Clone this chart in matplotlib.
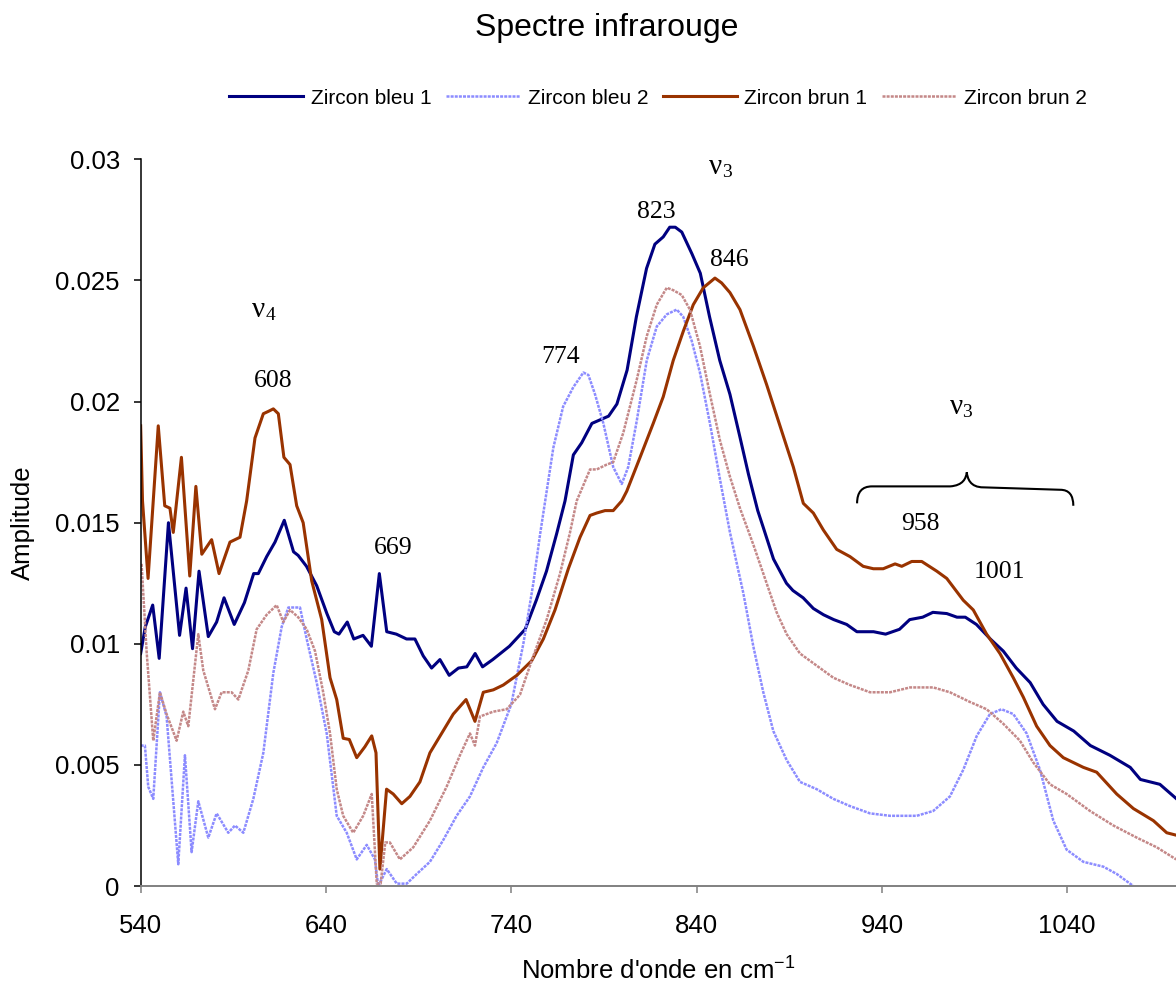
import matplotlib
matplotlib.use("Agg")
import matplotlib.pyplot as plt
from matplotlib.path import Path
from matplotlib.patches import PathPatch

plt.rcParams["font.family"] = ["Liberation Sans", "DejaVu Sans"]
plt.rcParams["mathtext.fontset"] = "custom"
plt.rcParams["mathtext.rm"] = "Liberation Sans"
plt.rcParams["mathtext.it"] = "Liberation Sans"
SERIF = ["Liberation Serif", "DejaVu Serif"]

# ---- data (wavenumber cm-1, amplitude) ----
bleu1_x = [540, 542.5, 546.5, 550, 555, 561, 564.5, 568, 571.5, 576.5, 581, 585, 590.5, 596,
           601, 603.5, 608, 612.5, 617.5, 622.5, 625, 629.5, 635, 640.5, 644.5, 647, 651.5, 655,
           660, 664.5, 668.8, 672.8, 678, 683.5, 688, 692.5, 697, 701.5, 706.5, 711.5, 716,
           720.5, 724.5, 730, 739, 747.5, 753.5, 759, 764.5, 769, 773.5, 778, 783.5, 789.5,
           792.5, 797, 802.5, 807.5, 813, 817.5, 822, 825.5, 828.5, 832, 837.5, 842, 847,
           852.5, 858, 863.5, 868, 873, 876, 881.5, 888.5, 892, 897.5, 903, 908.5, 914, 921,
           926.5, 935.5, 942, 949.5, 955, 962, 967.5, 975, 980.5, 985, 991, 998.5, 1005.5,
           1012.5, 1020, 1027, 1034.5, 1043.5, 1052.5, 1063, 1074, 1079.5, 1090, 1099]
bleu1_y = [0.0096, 0.0107, 0.0116, 0.0094, 0.0150, 0.01035, 0.0123, 0.0098, 0.0130, 0.0103,
           0.0109, 0.0119, 0.0108, 0.0117, 0.0129, 0.0129, 0.0136, 0.0142, 0.0151, 0.0138,
           0.01365, 0.0132, 0.0124, 0.01125, 0.0105, 0.0104, 0.0109, 0.0102, 0.01035, 0.0099,
           0.0129, 0.0105, 0.0104, 0.0102, 0.0102, 0.0095, 0.0090, 0.00935, 0.0087, 0.0090,
           0.00905, 0.0096, 0.00905, 0.00935, 0.0099, 0.0106, 0.0118, 0.0130, 0.01455, 0.0159,
           0.0178, 0.0183, 0.0191, 0.0193, 0.0194, 0.0199, 0.0213, 0.0235, 0.0255, 0.0265,
           0.0268, 0.0272, 0.0272, 0.0270, 0.0261, 0.0253, 0.0235, 0.0217, 0.0203, 0.0185,
           0.0170, 0.0155, 0.0148, 0.0135, 0.0125, 0.0122, 0.0119, 0.01146, 0.0112, 0.0110,
           0.0108, 0.0105, 0.0105, 0.0104, 0.0106, 0.0110, 0.0111, 0.0113, 0.01125, 0.0111,
           0.0111, 0.0108, 0.0102, 0.0097, 0.0090, 0.0084, 0.0075, 0.0068, 0.0064, 0.0058,
           0.0054, 0.0049, 0.0044, 0.0042, 0.0036]

bleu2_x = [540, 542.3, 544.1, 546.8, 550.4, 554, 560.3, 563.9, 567.5, 571.1, 576.5, 581, 587.3,
           590.9, 595.4, 600.8, 606.2, 611.6, 616.1, 619.7, 626, 629.6, 635, 640.4, 645.8,
           651.2, 656.6, 662, 666.4, 668.2, 672.8, 678.2, 683.6, 689, 696.1, 703.3, 710.5,
           717.7, 724.9, 732.1, 740, 746.5, 751.9, 755.5, 759.1, 762.7, 768, 773.5, 778.9,
           781.6, 785.2, 789.7, 795, 799.6, 803.1, 807.7, 813.1, 818.5, 823.9, 829.3, 832.8,
           837.4, 841.8, 847.2, 852.6, 858, 865.2, 870.6, 876, 881.4, 888.6, 895.8, 904.8,
           913.8, 922.8, 933.6, 944.4, 958.8, 967.7, 976.7, 983.9, 991.2, 998.3, 1004.6,
           1010.9, 1018.1, 1025.3, 1032.5, 1039.7, 1048.7, 1059.5, 1066.7, 1075.7]
bleu2_y = [0.0058, 0.0058, 0.0041, 0.0036, 0.0080, 0.0070, 0.0009, 0.0054, 0.0014, 0.0035,
           0.0020, 0.0030, 0.0022, 0.0025, 0.0022, 0.0036, 0.0055, 0.0088, 0.0107, 0.0115,
           0.0115, 0.0102, 0.0084, 0.0063, 0.0029, 0.0022, 0.0011, 0.0017, 0.0011, 0.0000,
           0.0007, 0.0001, 0.0001, 0.0005, 0.0010, 0.0019, 0.0029, 0.0037, 0.0049, 0.0059,
           0.0075, 0.0100, 0.0125, 0.0145, 0.0163, 0.0181, 0.0198, 0.0206, 0.0212, 0.0211,
           0.0203, 0.0191, 0.0173, 0.0166, 0.0173, 0.0192, 0.0217, 0.0231, 0.0236, 0.0238,
           0.0235, 0.0225, 0.0212, 0.0191, 0.0168, 0.0146, 0.0121, 0.0099, 0.0080, 0.0064,
           0.0052, 0.0043, 0.0040, 0.0036, 0.0033, 0.0030, 0.0029, 0.0029, 0.0031, 0.0037,
           0.0048, 0.0062, 0.0071, 0.0073, 0.0071, 0.0063, 0.0048, 0.0027, 0.0015, 0.0010,
           0.0008, 0.0005, 0.0000]

brun1_x = [540, 541, 544, 549.5, 553, 555.8, 557.6, 562, 566.5, 569.8, 573, 578.3, 582.3, 588.2,
           593.6, 597.2, 601.7, 606.2, 609, 611.6, 614.3, 617.3, 620.6, 624.2, 627.7, 632.3,
           637.7, 642.2, 645.8, 649.3, 652.6, 656.6, 661, 664.7, 667, 669.1, 672.7, 676.3,
           680.9, 685.3, 690.7, 696.1, 702.4, 708.7, 715.6, 720.4, 724.9, 730.3, 735.7, 743,
           751, 757.3, 763.6, 770.8, 777.1, 782.5, 786.1, 790.6, 795, 799.6, 802.3, 809.5,
           816.6, 822, 827.4, 832.8, 838.2, 843.6, 849.9, 853.5, 858, 863.4, 870.6, 877.8,
           885, 892.2, 897.6, 903, 908.4, 915.6, 922.8, 929.9, 935.4, 940.7, 947.1, 950.7,
           956.1, 961.5, 969.6, 975, 983.9, 989.3, 996.5, 1003.7, 1010.9, 1016.3, 1023.5,
           1030.7, 1037.9, 1048.7, 1055.9, 1066.7, 1075.7, 1086.5, 1093.7, 1098.8]
brun1_y = [0.0190, 0.0159, 0.0127, 0.0190, 0.0157, 0.0156, 0.0146, 0.0177, 0.0128, 0.0165,
           0.0137, 0.0143, 0.0129, 0.0142, 0.0144, 0.0159, 0.0185, 0.0195, 0.0196, 0.0197,
           0.0195, 0.0177, 0.0174, 0.0157, 0.0150, 0.0126, 0.0110, 0.0086, 0.0077, 0.0061,
           0.00605, 0.0053, 0.00575, 0.0062, 0.0055, 0.0007, 0.0040, 0.0038, 0.0034, 0.0037,
           0.0043, 0.0055, 0.0063, 0.0071, 0.0077, 0.0068, 0.0080, 0.0081, 0.0083, 0.0087,
           0.0093, 0.0102, 0.0114, 0.0131, 0.0144, 0.0153, 0.0154, 0.0155, 0.0155, 0.0159,
           0.0163, 0.0177, 0.0191, 0.0202, 0.0217, 0.0229, 0.0240, 0.0247, 0.0251, 0.0249,
           0.0245, 0.0238, 0.0223, 0.0207, 0.0190, 0.0173, 0.0158, 0.0154, 0.0147, 0.0139,
           0.0136, 0.0132, 0.0131, 0.0131, 0.0133, 0.0132, 0.0134, 0.0134, 0.0130, 0.0127,
           0.0118, 0.0114, 0.0104, 0.0096, 0.0086, 0.0078, 0.0066, 0.0058, 0.0053, 0.0049,
           0.0047, 0.0038, 0.0032, 0.0027, 0.0022, 0.0021]

brun2_x = [540.5, 543.2, 546.8, 550.4, 554, 559.4, 563, 565.7, 571.1, 573.8, 580.1, 583.7, 589.1,
           592.7, 598.1, 602.6, 608, 613.4, 617, 620.6, 625, 629.6, 634.1, 638.5, 642.2,
           645.8, 649.3, 654.7, 660.1, 664.7, 667.4, 669.5, 672, 674.5, 679.9, 687.1, 696.1,
           705.1, 712.3, 717.7, 720.4, 723.1, 730.3, 737.5, 744.7, 751.9, 759.1, 766.3, 771.7,
           775.3, 782.5, 786.1, 791.5, 795, 800.4, 807.7, 813.1, 818.5, 823.9, 827.4, 832,
           836.4, 841.8, 847.2, 852.6, 858, 863.4, 870.6, 877.8, 883.2, 888.6, 895.8, 904.8,
           913.8, 922.8, 933.6, 944.4, 955.2, 967.7, 976.7, 987.5, 996.5, 1005.5, 1014.5,
           1021.7, 1030.7, 1039.7, 1052.3, 1064.9, 1077.5, 1088.3, 1098.8]
brun2_y = [0.0133, 0.0097, 0.0060, 0.0080, 0.0071, 0.0060, 0.0072, 0.0066, 0.0104, 0.0089,
           0.0073, 0.0080, 0.0080, 0.0077, 0.0089, 0.0106, 0.0112, 0.0116, 0.0109, 0.0114,
           0.0111, 0.0106, 0.0097, 0.0080, 0.0063, 0.0040, 0.0029, 0.0022, 0.0029, 0.0038,
           0.0001, 0.0001, 0.0018, 0.0018, 0.0011, 0.0016, 0.0027, 0.0041, 0.0054, 0.0063,
           0.0058, 0.0070, 0.0072, 0.0073, 0.0079, 0.0095, 0.0110, 0.0129, 0.0146, 0.0159,
           0.0172, 0.0172, 0.0174, 0.0175, 0.0187, 0.0209, 0.0227, 0.0240, 0.0247, 0.0246,
           0.0244, 0.0238, 0.0223, 0.0203, 0.0184, 0.0169, 0.0156, 0.0141, 0.0125, 0.0113,
           0.0104, 0.0096, 0.0091, 0.0086, 0.0083, 0.0080, 0.0080, 0.0082, 0.0082, 0.0080,
           0.0076, 0.0073, 0.0067, 0.0060, 0.0051, 0.0042, 0.0038, 0.0031, 0.0025, 0.0020,
           0.0016, 0.0011]

series_names = ["Zircon bleu 1", "Zircon bleu 2", "Zircon brun 1", "Zircon brun 2"]

x_ticks = [540, 640, 740, 840, 940, 1040]
y_ticks = [0, 0.005, 0.01, 0.015, 0.02, 0.025, 0.03]
y_tick_labels = ["0", "0.005", "0.01", "0.015", "0.02", "0.025", "0.03"]

# peak labels: (text, wavenumber, amplitude of baseline)
peak_labels = [("608", 611.3, 0.0206), ("669", 676.4, 0.0137), ("774", 766.8, 0.0216),
               ("823", 818.5, 0.0276), ("846", 857.6, 0.0256), ("958", 961.0, 0.0147),
               ("1001", 1003.3, 0.0127)]
nu_labels = [("4", 603.8, 0.0235), ("3", 850.2, 0.0294), ("3", 980.1, 0.0195)]

fig = plt.figure(figsize=(11.76, 9.9), dpi=100)
ax = fig.add_axes([0.1196, 0.105, 0.8804, 0.734])

line_kw = dict(solid_joinstyle="round", dash_joinstyle="round")
ax.plot(bleu1_x, bleu1_y, color="#000080", lw=2.2, label=series_names[0], **line_kw)
ax.plot(bleu2_x, bleu2_y, color="#8c8cff", lw=1.8, ls=(0, (1.2, 0.45)),
        label=series_names[1], **line_kw)
ax.plot(brun1_x, brun1_y, color="#993300", lw=2.2, label=series_names[2], **line_kw)
ax.plot(brun2_x, brun2_y, color="#c48888", lw=1.8, ls=(0, (1.2, 0.45)),
        label=series_names[3], **line_kw)

ax.set_xlim(540, 1098.7)
ax.set_ylim(0, 0.03)
ax.set_xticks(x_ticks)
ax.set_yticks(y_ticks)
ax.set_yticklabels(y_tick_labels)
ax.tick_params(axis="both", direction="out", length=5, width=1.1, labelsize=18.5)
ax.tick_params(axis="x", pad=15, color="#808080")
ax.tick_params(axis="y", pad=10)
for side in ("top", "right"):
    ax.spines[side].set_visible(False)
ax.spines["left"].set_linewidth(1.1)
ax.spines["bottom"].set_linewidth(1.4)
ax.spines["bottom"].set_color("#808080")

ax.set_xlabel("Nombre d'onde en cm$^{-1}$", fontsize=18.5, va="baseline")
ax.xaxis.set_label_coords(0.5, -0.129)
ax.set_ylabel("Amplitude", fontsize=18.5, va="center")
ax.yaxis.set_label_coords(-0.1137, 0.5)

fig.suptitle("Spectre infrarouge", x=0.516, y=0.964, va="baseline", fontsize=23)
fig.legend(loc="center", bbox_to_anchor=(0.5595, 0.901), ncol=4, frameon=False, fontsize=15,
           handlelength=3.55, handletextpad=0.35, columnspacing=0.72, borderpad=0,
           borderaxespad=0)

for txt, x, y in peak_labels:
    ax.text(x, y, txt, family=SERIF, fontsize=18.5, ha="center", va="baseline")
for sub, x, y in nu_labels:
    ax.text(x, y, "ν", family=SERIF, fontsize=21, ha="center", va="baseline")
    ax.annotate(sub, (x, y), xytext=(4.5, -2.5), textcoords="offset points",
                family=SERIF, fontsize=14, va="baseline")

# curly brace over the 958 / 1001 group
bx0, bx1, bxm = 926.6, 1043.3, 985.8
by, btip, bend = 0.0165, 0.01708, 0.0158
verts = [(bx0, bend), (bx0, by), (bx0 + 8, by), (bxm - 9, by),
         (bxm - 2, by + 0.00004), (bxm - 0.4, by + 0.00033), (bxm, btip),
         (bxm + 0.4, by + 0.00033), (bxm + 1.7, by - 0.00004), (bxm + 9, by - 0.00004),
         (bx1 - 7, by - 0.00014), (bx1, by - 0.00014), (bx1, bend - 0.0001)]
codes = [Path.MOVETO, Path.CURVE3, Path.CURVE3, Path.LINETO,
         Path.CURVE4, Path.CURVE4, Path.CURVE4,
         Path.CURVE4, Path.CURVE4, Path.CURVE4,
         Path.LINETO, Path.CURVE3, Path.CURVE3]
ax.add_patch(PathPatch(Path(verts, codes), fill=False, lw=1.5, color="black"))

fig.savefig("out.png", dpi=100)
